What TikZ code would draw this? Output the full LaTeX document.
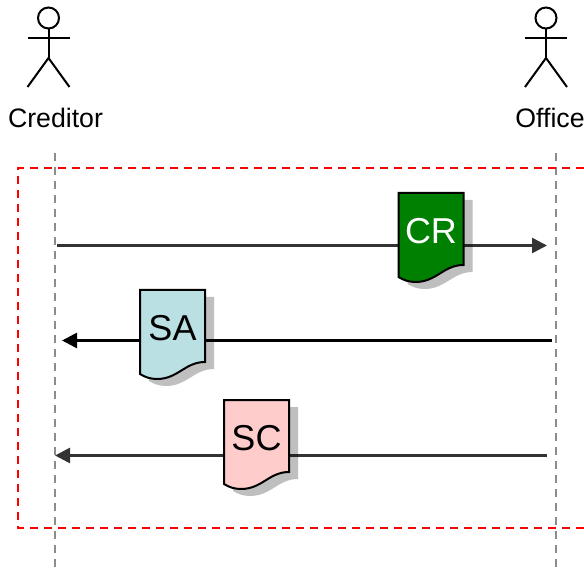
\documentclass[tikz,border=0pt]{standalone}
\usepackage{fontspec}
\setmainfont{Liberation Sans}
\usetikzlibrary{arrows.meta}
\definecolor{crgreen}{HTML}{008000}
\definecolor{sablue}{HTML}{BBE0E3}
\definecolor{scpink}{HTML}{FFCCCC}
\definecolor{msgdark}{HTML}{333333}
\tikzset{
  lifeline/.style={draw=black!45,line width=2.4pt,dash pattern=on 8pt off 6pt},
  frameline/.style={draw=red,line width=2pt,dash pattern=on 8pt off 6pt},
  msg/.style={-{Triangle[length=15pt,width=15pt]},line width=2.6pt},
  actorline/.style={draw=black,line width=2pt},
  actorname/.style={font=\fontsize{26.7}{30}\selectfont},
  doclabel/.style={font=\fontsize{36}{40}\selectfont,inner sep=0pt}
}
% one actor: name, x of the head
\newcommand{\actorfig}[2]{
  \node[actorline,circle,minimum size=21pt,inner sep=0pt] (#1head) at (#2,18) {};
  \coordinate (#1neck) at (#2,38);
  \coordinate (#1hip) at (#2,58);
  \coordinate (#1handl) at (#2-21,38);
  \coordinate (#1handr) at (#2+21,38);
  \coordinate (#1footl) at (#2-21,87);
  \coordinate (#1footr) at (#2+21,87);
  \draw[actorline] (#1head) -- (#1hip);
  \draw[actorline] (#1handl) -- (#1handr);
  \draw[actorline] (#1footl) -- (#1hip) -- (#1footr);
}
% one document: name, left, top, fill, text colour, label
\newcommand{\docnote}[6]{
  \begin{scope}[shift={(#2,#3)}]
    \fill[black,opacity=.25,shift={(9,7)}] (0,0) -- (65,0) -- (65,72)
      .. controls (45,72) and (38,89) .. (17,89)
      .. controls (10,89) and (5,87) .. (0,84) -- cycle;
    \draw[fill=#4,line width=2pt] (0,0) -- (65,0) -- (65,72)
      .. controls (45,72) and (38,89) .. (17,89)
      .. controls (10,89) and (5,87) .. (0,84) -- cycle;
    \node[doclabel,text=#5] (#1) at (32.5,38.5) {#6};
  \end{scope}
}
\begin{document}
\begin{tikzpicture}[x=1pt,y=-1pt]
\useasboundingbox (0,0) rectangle (584,572);
\actorfig{creditor}{48.5}
\actorfig{office}{546}
\node[actorname] (creditor) at (55.5,118) {Creditor};
\node[actorname] (office) at (550,118) {Office};
% lifelines
\coordinate (credtop) at (55,153);
\coordinate (credend) at (55,567);
\coordinate (offtop) at (556,153);
\coordinate (offend) at (556,567);
\draw[lifeline] (credtop) -- (credend);
\draw[lifeline] (offtop) -- (offend);
% frame, open on the right
\coordinate (framea) at (584,168);
\coordinate (frameb) at (18,168);
\coordinate (framec) at (18,528);
\coordinate (framed) at (584,528);
\draw[frameline] (framea) -- (frameb) -- (framec) -- (framed);
% messages
\coordinate (crfrom) at (57,245.5);
\coordinate (crto) at (547,245.5);
\coordinate (safrom) at (552,340.5);
\coordinate (sato) at (62,340.5);
\coordinate (scfrom) at (547,455.5);
\coordinate (scto) at (55,455.5);
\draw[msg,draw=msgdark,fill=msgdark] (crfrom) -- (crto);
\draw[msg,draw=black] (safrom) -- (sato);
\draw[msg,draw=msgdark] (scfrom) -- (scto);
% documents
\docnote{docCR}{398.5}{193}{crgreen}{white}{CR}
\docnote{docSA}{140}{290}{sablue}{black}{SA}
\docnote{docSC}{224}{400}{scpink}{black}{SC}
\end{tikzpicture}
\end{document}
